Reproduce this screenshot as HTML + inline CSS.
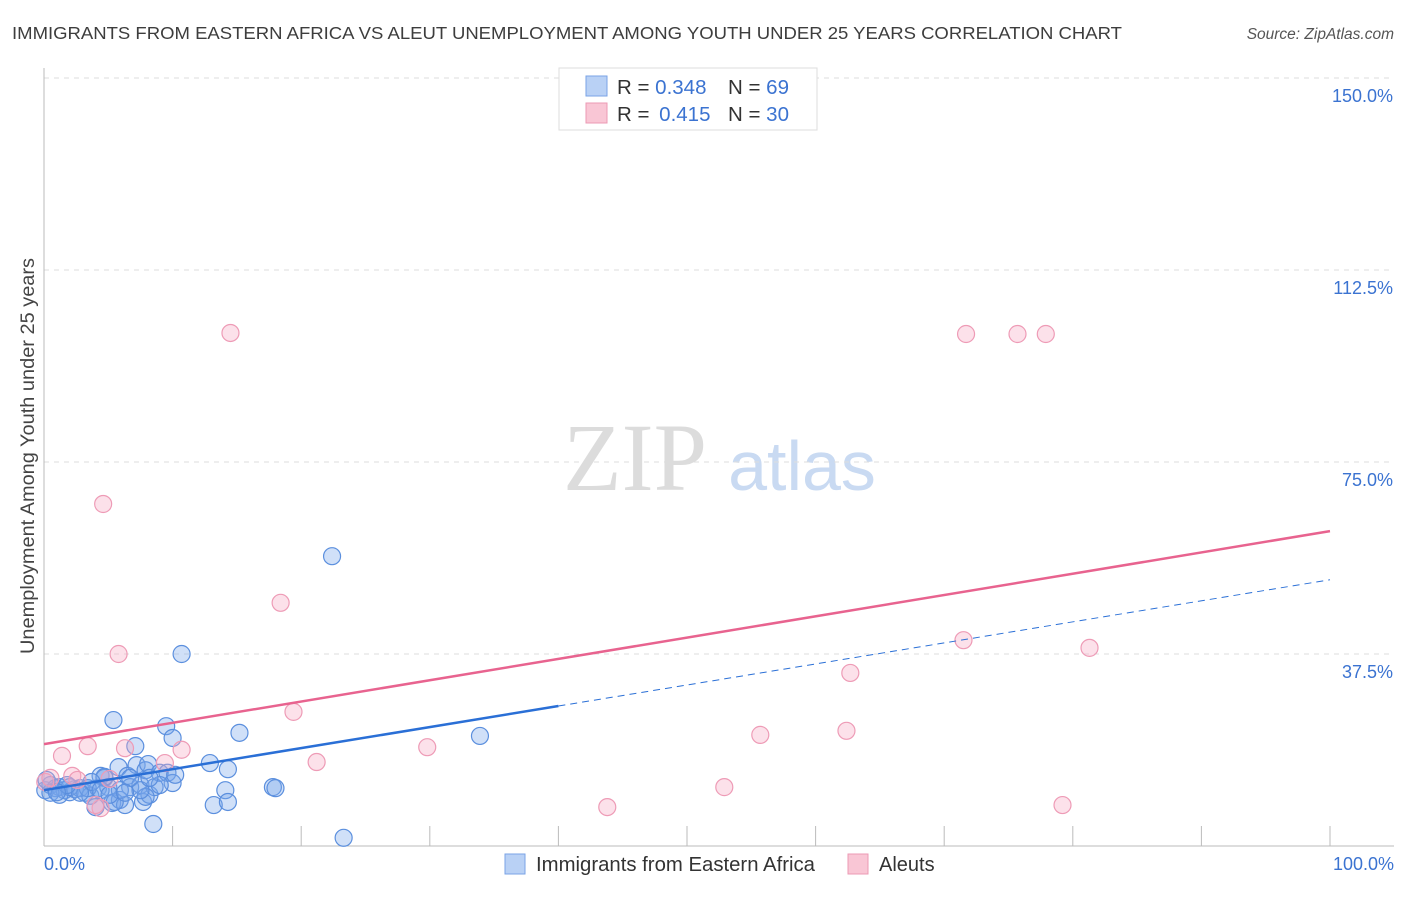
<!DOCTYPE html>
<html><head><meta charset="utf-8"><style>
body{margin:0;background:#fff;font-family:"Liberation Sans",sans-serif;}
</style></head><body>
<svg width="1406" height="892" xmlns="http://www.w3.org/2000/svg" id="chart">
<text x="12" y="39" font-size="17.5" fill="#3d3d3d" textLength="1110" lengthAdjust="spacingAndGlyphs">IMMIGRANTS FROM EASTERN AFRICA VS ALEUT UNEMPLOYMENT AMONG YOUTH UNDER 25 YEARS CORRELATION CHART</text>
<text x="1394" y="39" font-size="15.5" fill="#555" font-style="italic" text-anchor="end">Source: ZipAtlas.com</text>
<g>
<text x="635" y="490" font-size="96" fill="#dcdcdc" font-family="Liberation Serif,serif" text-anchor="middle">ZIP</text>
<text x="802" y="490" font-size="70" fill="#c9daf2" text-anchor="middle">atlas</text>
</g>
<g id="grid"></g>
<g id="axes"></g>
<g id="marks"></g>
<text transform="translate(34,456) rotate(-90)" font-size="19" fill="#444" text-anchor="middle" textLength="396" lengthAdjust="spacingAndGlyphs">Unemployment Among Youth under 25 years</text>
<text x="44" y="870" font-size="18" fill="#3b73d1">0.0%</text>
<text x="1394" y="870" font-size="18" fill="#3b73d1" text-anchor="end">100.0%</text>
<g>
<rect x="559" y="68" width="258" height="62" fill="#fff" stroke="#ddd"/>
<rect x="586" y="76" width="21" height="20" fill="#b9d1f5" stroke="#7aa3e6"/>
<rect x="586" y="103" width="21" height="20" fill="#f9c6d5" stroke="#ec9ab4"/>
<text x="617" y="94" font-size="20.5" fill="#333">R = <tspan fill="#3b73d1">0.348</tspan></text>
<text x="728" y="94" font-size="20.5" fill="#333">N = <tspan fill="#3b73d1">69</tspan></text>
<text x="617" y="121" font-size="20.5" fill="#333">R = <tspan fill="#3b73d1" dx="4">0.415</tspan></text>
<text x="728" y="121" font-size="20.5" fill="#333">N = <tspan fill="#3b73d1">30</tspan></text>
</g>
<g>
<rect x="505" y="854" width="20" height="20" fill="#b9d1f5" stroke="#7aa3e6"/>
<text x="536" y="871" font-size="20" fill="#333" textLength="279" lengthAdjust="spacingAndGlyphs">Immigrants from Eastern Africa</text>
<rect x="848" y="854" width="20" height="20" fill="#f9c6d5" stroke="#ec9ab4"/>
<text x="879" y="871" font-size="20" fill="#333">Aleuts</text>
</g>
</svg>
<script>
const yTicks=[37.5,75,112.5,150];
const yTickLabels=["37.5%","75.0%","112.5%","150.0%"];
const xTicks=[0,10,20,30,40,50,60,70,80,90,100];
const blueX=[0.1,0.5,0.9,1.2,1.6,2.0,2.4,2.8,3.2,3.6,4.0,4.2,4.4,4.7,5.0,5.3,5.4,5.8,5.9,6.3,6.5,6.7,7.1,7.2,7.5,7.7,7.9,8.1,8.2,8.5,8.6,9.0,9.5,9.6,10.0,10.0,10.2,10.7,12.9,13.2,14.1,14.3,14.3,15.2,17.8,18.0,22.4,23.3,33.9,0.5,1.2,2.0,3.4,4.7,5.5,6.7,7.9,9.0,7.5,3.7,5.9,2.8,4.4,5.1,6.3,1.8,1.0,0.2,8.2];
const blueY=[10.9,11.9,11.3,11.5,10.9,10.5,11.1,11.3,10.4,9.8,7.6,11.3,13.7,13.3,11.5,8.4,24.6,15.4,9.0,8.0,13.7,11.5,19.5,15.8,11.9,8.6,14.8,16.0,10.0,4.3,11.5,14.3,23.4,14.3,12.3,21.1,13.9,37.5,16.2,8.0,10.9,8.6,15.0,22.1,11.5,11.3,56.6,1.6,21.5,10.4,10.0,11.5,11.3,13.5,8.6,13.3,9.6,11.9,10.9,12.5,10.9,10.4,10.9,10.0,10.4,11.9,10.5,12.9,13.3];
const pinkX=[0.1,0.5,1.4,2.2,3.4,4.4,4.6,5.1,5.8,6.3,9.4,10.7,14.5,18.4,19.4,21.2,29.8,43.8,52.9,55.7,62.4,62.7,71.5,71.7,75.7,77.9,79.2,81.3,4.0,2.6];
const pinkY=[12.5,13.3,17.6,13.7,19.5,7.4,66.8,13.1,37.5,19.1,16.2,18.8,100.2,47.5,26.2,16.4,19.3,7.6,11.5,21.7,22.5,33.8,40.2,100,100,100,8.0,38.7,8.0,12.9];
const blueTrend=[10.9,52.0];
const pinkTrend=[19.9,61.5];
const blueSolidEnd=40;

const NS="http://www.w3.org/2000/svg";
const xs=v=>44+v*12.86;
const ys=v=>846-v*5.12;
function mk(tag,attrs,parent){const e=document.createElementNS(NS,tag);for(const k in attrs)e.setAttribute(k,attrs[k]);document.getElementById(parent).appendChild(e);return e;}
yTicks.forEach((t,i)=>{
  const l=mk('line',{x1:44,x2:1394,y1:ys(t),y2:ys(t),stroke:'#ddd','stroke-dasharray':'5,5'},'grid');
  
  
  const tx=mk('text',{x:1393,y:ys(t)+24,'font-size':18,fill:'#3b73d1','text-anchor':'end'},'grid');
  tx.textContent=yTickLabels[i];
  
  
});
const ax=mk('line',{x1:44,x2:44,y1:68,y2:846,stroke:'#bbb'},'axes');


const bx=mk('line',{x1:44,x2:1394,y1:846,y2:846,stroke:'#bbb'},'axes');


xTicks.forEach(t=>{
  const l=mk('line',{x1:xs(t),x2:xs(t),y1:826,y2:846,stroke:'#bbb'},'axes');
  
  
});
blueX.forEach((x,i)=>{
  const c=mk('circle',{cx:xs(x),cy:ys(blueY[i]),r:8.5,fill:'rgba(120,165,235,0.35)',stroke:'#5b8fde','stroke-width':1.2},'marks');
  
  
});
pinkX.forEach((x,i)=>{
  const c=mk('circle',{cx:xs(x),cy:ys(pinkY[i]),r:8.5,fill:'rgba(245,170,195,0.35)',stroke:'#ee9bb6','stroke-width':1.2},'marks');
  
  
});
const tb=v=>blueTrend[0]+(blueTrend[1]-blueTrend[0])*v/100;
const l1=mk('line',{x1:xs(0),y1:ys(tb(0)),x2:xs(blueSolidEnd),y2:ys(tb(blueSolidEnd)),stroke:'#2a6fd6','stroke-width':2.5},'marks');


const l2=mk('line',{x1:xs(blueSolidEnd),y1:ys(tb(blueSolidEnd)),x2:xs(100),y2:ys(tb(100)),stroke:'#2a6fd6','stroke-width':1,'stroke-dasharray':'7,5'},'marks');


const l3=mk('line',{x1:xs(0),y1:ys(pinkTrend[0]),x2:xs(100),y2:ys(pinkTrend[1]),stroke:'#e8638f','stroke-width':2.5},'marks');


</script>
</body></html>
